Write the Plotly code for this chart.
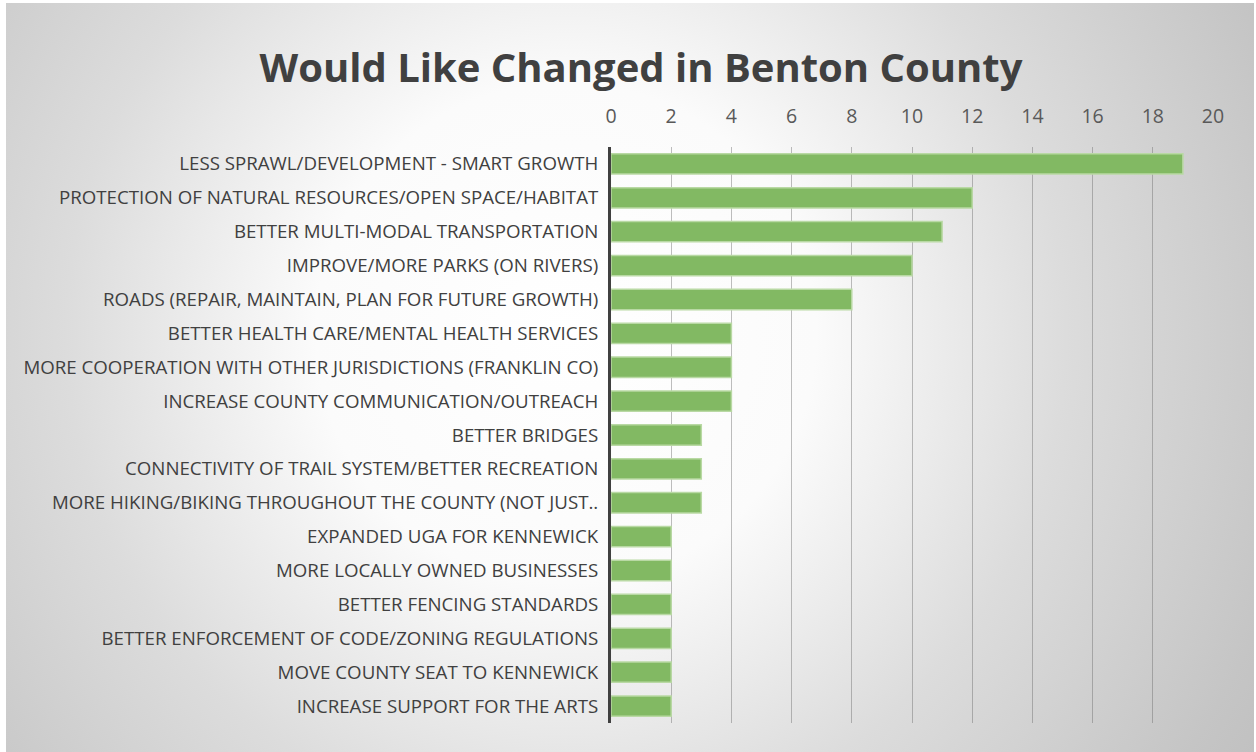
import base64
import plotly.graph_objects as go

# Survey responses: what people would like changed in Benton County
categories = [
    "LESS SPRAWL/DEVELOPMENT - SMART GROWTH",
    "PROTECTION OF NATURAL RESOURCES/OPEN SPACE/HABITAT",
    "BETTER MULTI-MODAL TRANSPORTATION",
    "IMPROVE/MORE PARKS (ON RIVERS)",
    "ROADS (REPAIR, MAINTAIN, PLAN FOR FUTURE GROWTH)",
    "BETTER HEALTH CARE/MENTAL HEALTH SERVICES",
    "MORE COOPERATION WITH OTHER JURISDICTIONS (FRANKLIN CO)",
    "INCREASE COUNTY COMMUNICATION/OUTREACH",
    "BETTER BRIDGES",
    "CONNECTIVITY OF TRAIL SYSTEM/BETTER RECREATION",
    "MORE HIKING/BIKING THROUGHOUT THE COUNTY (NOT JUST..",
    "EXPANDED UGA FOR KENNEWICK",
    "MORE LOCALLY OWNED BUSINESSES",
    "BETTER FENCING STANDARDS",
    "BETTER ENFORCEMENT OF CODE/ZONING REGULATIONS",
    "MOVE COUNTY SEAT TO KENNEWICK",
    "INCREASE SUPPORT FOR THE ARTS",
]
counts = [19, 12, 11, 10, 8, 4, 4, 4, 3, 3, 3, 2, 2, 2, 2, 2, 2]
x_ticks = [0, 2, 4, 6, 8, 10, 12, 14, 16, 18, 20]

W, H = 1256, 752
L, R, T, B = 611, 43, 147, 29
pw, ph = W - L - R, H - T - B

# Radial gray background drawn as an SVG image behind the chart
bw, bh = 1248, 749
svg = f'''<svg xmlns="http://www.w3.org/2000/svg" width="{bw}" height="{bh}">
<defs><radialGradient id="g" gradientUnits="userSpaceOnUse" cx="560" cy="330" r="1000">
<stop offset="0" stop-color="#ffffff"/>
<stop offset="0.25" stop-color="#fbfbfb"/>
<stop offset="0.5" stop-color="#dcdcdc"/>
<stop offset="0.75" stop-color="#c5c5c5"/>
<stop offset="1" stop-color="#b3b3b3"/>
</radialGradient></defs>
<rect x="0" y="0" width="{bw}" height="{bh}" fill="url(#g)"/>
</svg>'''
bg_src = "data:image/svg+xml;base64," + base64.b64encode(svg.encode()).decode()

fig = go.Figure(
    go.Bar(
        x=counts,
        y=categories,
        orientation="h",
        marker=dict(color="#82b963", line=dict(color="#b9d9a4", width=1.5)),
        hoverinfo="x+y",
    )
)

fig.add_layout_image(
    dict(
        source=bg_src,
        xref="paper", yref="paper",
        x=(6 - L) / pw, y=(H - B - 3) / ph,
        sizex=bw / pw, sizey=bh / ph,
        xanchor="left", yanchor="top",
        sizing="stretch", layer="below",
    )
)

label_font = "'Open Sans', sans-serif"

fig.update_layout(
    width=W, height=H,
    margin=dict(l=L, r=R, t=T, b=B, pad=0),
    paper_bgcolor="white",
    plot_bgcolor="rgba(0,0,0,0)",
    bargap=0.4,
    showlegend=False,
    title=dict(
        text="<b>Would Like Changed in Benton County</b>",
        x=641 / W, xanchor="center",
        y=1 - 68 / H, yanchor="middle",
        font=dict(family="'Open Sans', sans-serif", size=40, color="#404040"),
    ),
    xaxis=dict(
        side="top",
        range=[0, 20],
        tickvals=x_ticks,
        ticks="",
        ticklabelstandoff=19,
        tickfont=dict(family=label_font, size=19.5, color="#595959"),
        showgrid=True,
        gridcolor="rgba(110,110,110,0.45)",
        gridwidth=1,
        zeroline=False,
        showline=False,
        fixedrange=True,
    ),
    yaxis=dict(
        type="category",
        categoryorder="array",
        categoryarray=categories,
        autorange="reversed",
        ticks="outside",
        ticklen=6,
        tickcolor="rgba(0,0,0,0)",
        tickfont=dict(family=label_font, size=18.7, color="#404040"),
        showline=True,
        linecolor="#404040",
        linewidth=3,
        showgrid=False,
        fixedrange=True,
    ),
)

fig.write_html("out.html")
